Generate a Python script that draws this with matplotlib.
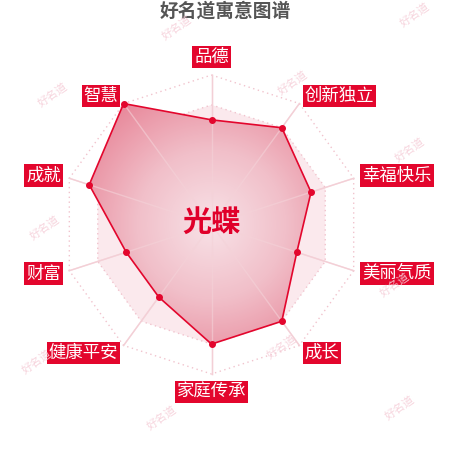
import numpy as np
import matplotlib
matplotlib.use('Agg')
import matplotlib.pyplot as plt
from matplotlib.colors import LinearSegmentedColormap
from matplotlib.patches import Polygon

plt.rcParams['font.family'] = ['Noto Sans CJK SC', 'DejaVu Sans']

# 寓意维度（从正上方开始顺时针）
indicators = ['品德', '创新独立', '幸福快乐', '美丽气质', '成长',
              '家庭传承', '健康平安', '财富', '成就', '智慧']
scores = [70, 80, 70, 60, 80, 80, 60, 60, 86, 100]
max_score = 100
name = '光蝶'
title = '好名道寓意图谱'

# 版面（像素坐标）
cx, cy, R = 211.5, 224.5, 149.5
red = '#e3062d'

fig = plt.figure(figsize=(4.5, 4.5), dpi=100)
ax = fig.add_axes([0, 0, 1, 1])
ax.set_xlim(0, 450)
ax.set_ylim(450, 0)
ax.axis('off')

n = len(indicators)
ang = np.arange(n) * 2 * np.pi / n


def ring(frac):
    xs = cx + R * frac * np.sin(ang)
    ys = cy - R * frac * np.cos(ang)
    return np.column_stack([xs, ys])


# 背景分区：内圈浅粉
ax.add_patch(Polygon(ring(0.8), closed=True, facecolor='#fbe9ed', edgecolor='none', zorder=1))
ax.add_patch(Polygon(ring(0.6), closed=True, facecolor='#fcf0f2', edgecolor='none', zorder=1))

# 网格：虚线圈 + 轴线
for f in [0.2, 0.4, 0.6, 0.8, 1.0]:
    pts = ring(f)
    pts = np.vstack([pts, pts[:1]])
    ax.plot(pts[:, 0], pts[:, 1], color='#f1c3cd', lw=1, ls=(0, (1, 2.5)), zorder=2)
for a in ang:
    ax.plot([cx, cx + R * np.sin(a)], [cy, cy - R * np.cos(a)],
            color='#f3ccd4', lw=1, zorder=2)

# 数据多边形，径向渐变填充
vals = np.array(scores) / max_score
px = cx + R * vals * np.sin(ang)
py = cy - R * vals * np.cos(ang)
poly = Polygon(np.column_stack([px, py]), closed=True, facecolor='none',
               edgecolor='none', zorder=3)
ax.add_patch(poly)

gx, gy = np.meshgrid(np.linspace(0, 450, 450), np.linspace(0, 450, 450))
dist = np.sqrt((gx - cx) ** 2 + (gy - cy) ** 2) / R
cmap = LinearSegmentedColormap.from_list('pk', ['#f8e2e7', '#f1bfc9', '#e8889a'])
im = ax.imshow(dist, extent=(0, 450, 450, 0), cmap=cmap, vmin=0, vmax=1,
               zorder=3, interpolation='bilinear')
im.set_clip_path(poly)

# 轴线压在填充上（淡）
for a in ang:
    ax.plot([cx, cx + R * np.sin(a)], [cy, cy - R * np.cos(a)],
            color='#f4d2d8', lw=1, alpha=0.6, zorder=4)

ax.plot(np.append(px, px[0]), np.append(py, py[0]), color=red, lw=1.2, zorder=5)
ax.plot(px, py, 'o', color=red, ms=4, zorder=6)

# 维度标签
gap = 9
for a, lab in zip(ang, indicators):
    s, c = np.sin(a), np.cos(a)
    lx = cx + (R + gap) * s
    ly = cy - (R + gap) * c
    ha = 'left' if s > 0.1 else ('right' if s < -0.1 else 'center')
    va = 'bottom' if c > 0.9 else ('top' if c < -0.9 else 'center')
    ax.text(lx, ly, lab, color='white', fontsize=12.5, ha=ha, va=va, zorder=7,
            bbox=dict(boxstyle='square,pad=0.12', facecolor=red, edgecolor='none'))

# 名字与标题
ax.text(cx, 222, name, color='#e0002a', fontsize=21, fontweight='bold',
        ha='center', va='center', zorder=8)
ax.text(225, 11, title, color='#555555', fontsize=13.5, fontweight='bold',
        ha='center', va='center', zorder=8)

# 水印
marks = [(177, 28), (415, 15), (53, 95), (293, 83), (410, 150), (45, 228),
         (395, 285), (162, 418), (400, 408), (37, 362), (282, 347)]
for mx, my in marks:
    ax.text(mx, my, '好名道', color='#f6d0da', fontsize=8, rotation=35,
            ha='center', va='center', zorder=9, alpha=0.9)

fig.savefig('out.png', dpi=100)
